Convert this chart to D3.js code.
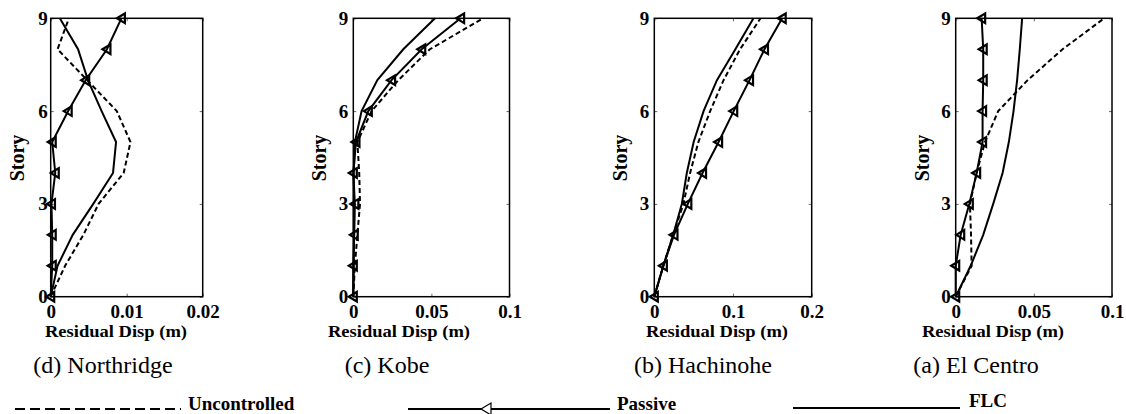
<!DOCTYPE html>
<html>
<head>
<meta charset="utf-8">
<script src="https://cdn.jsdelivr.net/npm/d3@7"></script>
<style>
  body { margin:0; background:#fff; }
  svg text { font-family:"Liberation Serif","Times New Roman",serif; fill:#000; }
</style>
</head>
<body>
<svg id="chart" width="1126" height="414"></svg>
<script>
// stories (y values shared by all panels)
const stories = [0,1,2,3,4,5,6,7,8,9];
const storyTicks = [0,3,6,9];

// panels, left to right
const panelTitles = ['(d) Northridge','(c) Kobe','(b) Hachinohe','(a) El Centro'];
const xMax   = [0.02, 0.1, 0.2, 0.1];
const xTicks = [[0,0.01,0.02],[0,0.05,0.1],[0,0.1,0.2],[0,0.05,0.1]];

// residual displacement (m), one value per story
const uncNorthridge = [0,0.0019,0.0043,0.0063,0.0096,0.0105,0.0087,0.0048,0.0009,0.0024];
const pasNorthridge = [0,0.0002,0.0002,0.0001,0.0006,0.0002,0.0023,0.0046,0.0074,0.0093];
const flcNorthridge = [0,0.0009,0.0029,0.0056,0.0082,0.0086,0.0067,0.0049,0.0036,0.0012];

const uncKobe = [0,0.001,0.0026,0.0043,0.0038,0.0026,0.0117,0.0288,0.049,0.0832];
const pasKobe = [0,0,0.0006,0.001,0,0.0017,0.0096,0.0245,0.0438,0.0687];
const flcKobe = [0,0.0003,0.0003,0.0003,0.0003,0.001,0.0053,0.0154,0.032,0.0523];

const uncHachinohe = [0,0.0115,0.024,0.037,0.0455,0.056,0.071,0.088,0.109,0.135];
const pasHachinohe = [0,0.0115,0.025,0.0426,0.0613,0.0817,0.1009,0.121,0.140,0.1625];
const flcHachinohe = [0,0.0115,0.024,0.035,0.0413,0.05,0.0626,0.0796,0.103,0.126];

const uncElCentro = [0,0.0102,0.0098,0.0091,0.0134,0.0187,0.0272,0.046,0.0684,0.095];
const pasElCentro = [0,0,0.0032,0.0087,0.0134,0.0172,0.0172,0.0176,0.0176,0.0166];
const flcElCentro = [0,0.0096,0.0176,0.024,0.030,0.034,0.037,0.0393,0.041,0.0425];

const uncontrolled = [uncNorthridge, uncKobe, uncHachinohe, uncElCentro];
const passive      = [pasNorthridge, pasKobe, pasHachinohe, pasElCentro];
const flc          = [flcNorthridge, flcKobe, flcHachinohe, flcElCentro];

const legendLabels = ['Uncontrolled','Passive','FLC'];

// layout
const svg = d3.select('#chart');
const boxLeft  = [50.7, 353.3, 654.3, 955.7];
const boxRight = [202.7, 509.5, 811.7, 1112];
const boxTop = 18.3, boxBottom = 296.7;
const xlabCenter = [116, 399, 717, 993];
const capCenter  = [103, 387, 703, 976];
const ytickGap   = [3, 5, 5, 5];

const tri = 'M-4.5,0L3.5,-4.8L3.5,4.8Z';

for (let p=0; p<4; p++) {
    let x=d3.scaleLinear().domain([0,xMax[p]]).range([boxLeft[p],boxRight[p]]);
    let y=d3.scaleLinear().domain([0,9]).range([boxBottom,boxTop]);
    let g=svg.append('g');

    // inward ticks on all four sides
    let tickStyle = sel => {
        sel.select('.domain').remove();
        sel.selectAll('line').attr('stroke','#666').attr('stroke-width',1);
    };
    g.append('g').attr('transform','translate(0,'+boxBottom+')')
        .call(d3.axisBottom(x).tickValues(xTicks[p]).tickSize(-3).tickPadding(6).tickFormat(d=>String(d)))
        .call(tickStyle)
        .selectAll('text').attr('font-size',19).attr('font-weight','bold').attr('y',8).attr('dy','0.72em');
    g.append('g').attr('transform','translate(0,'+boxTop+')')
        .call(d3.axisTop(x).tickValues(xTicks[p]).tickSize(-3).tickFormat(''))
        .call(tickStyle);
    g.append('g').attr('transform','translate('+boxLeft[p]+',0)')
        .call(d3.axisLeft(y).tickValues(storyTicks).tickSize(-3).tickPadding(ytickGap[p]).tickFormat(d3.format('d')))
        .call(tickStyle)
        .selectAll('text').attr('font-size',19).attr('font-weight','bold').attr('x',-ytickGap[p]);
    g.append('g').attr('transform','translate('+boxRight[p]+',0)')
        .call(d3.axisRight(y).tickValues(storyTicks).tickSize(-3).tickFormat(''))
        .call(tickStyle);

    g.append('rect')
        .attr('x',boxLeft[p]).attr('y',boxTop)
        .attr('width',boxRight[p]-boxLeft[p]).attr('height',boxBottom-boxTop)
        .attr('fill','none').attr('stroke','#000').attr('stroke-width',1.5);

    let line=d3.line().x(d=>x(d[0])).y(d=>y(d[1]));
    let pts = arr => arr.map((v,i)=>[v,stories[i]]);

    g.append('path').datum(pts(uncontrolled[p])).attr('d',line)
        .attr('fill','none').attr('stroke','#000').attr('stroke-width',2).attr('stroke-dasharray','5,3');
    g.append('path').datum(pts(flc[p])).attr('d',line)
        .attr('fill','none').attr('stroke','#000').attr('stroke-width',2);
    g.append('path').datum(pts(passive[p])).attr('d',line)
        .attr('fill','none').attr('stroke','#000').attr('stroke-width',2);
    g.selectAll('path.mk').data(pts(passive[p])).join('path')
        .attr('class','mk')
        .attr('d',tri)
        .attr('transform',d=>'translate('+x(d[0])+','+y(d[1])+')')
        .attr('fill','none').attr('stroke','#000').attr('stroke-width',2.2).attr('stroke-linejoin','miter');

    g.append('text')
        .attr('transform','translate('+(boxLeft[p]-34)+',158) rotate(-90)')
        .attr('text-anchor','middle').attr('dy','0.35em')
        .attr('font-size',20).attr('font-weight','bold')
        .text('Story');
    g.append('text')
        .attr('x',xlabCenter[p]-71).attr('y',337)
        .attr('font-size',16).attr('font-weight','bold')
        .attr('textLength',142).attr('lengthAdjust','spacingAndGlyphs')
        .text('Residual Disp (m)');
    g.append('text')
        .attr('x',capCenter[p]).attr('y',373)
        .attr('text-anchor','middle').attr('font-size',24)
        .text(panelTitles[p]);
}

// legend
const lg=svg.append('g');
lg.append('line').attr('x1',15).attr('x2',181).attr('y1',409).attr('y2',409)
    .attr('stroke','#000').attr('stroke-width',2).attr('stroke-dasharray','10,5');
lg.append('text').attr('x',188).attr('y',410).attr('font-size',19).attr('font-weight','bold').text(legendLabels[0]);

lg.append('line').attr('x1',408).attr('x2',610).attr('y1',409).attr('y2',409)
    .attr('stroke','#000').attr('stroke-width',2);
lg.append('path').attr('d','M-5,0L5,-6L5,6Z').attr('transform','translate(486,409)')
    .attr('fill','#fff').attr('stroke','#000').attr('stroke-width',1.2);
lg.append('line').attr('x1',491).attr('x2',610).attr('y1',409).attr('y2',409)
    .attr('stroke','#000').attr('stroke-width',2);
lg.append('text').attr('x',617).attr('y',410).attr('font-size',19).attr('font-weight','bold').text(legendLabels[1]);

lg.append('line').attr('x1',793).attr('x2',960).attr('y1',408).attr('y2',408)
    .attr('stroke','#000').attr('stroke-width',2);
lg.append('text').attr('x',969).attr('y',407).attr('font-size',19).attr('font-weight','bold').text(legendLabels[2]);
</script>
</body>
</html>
